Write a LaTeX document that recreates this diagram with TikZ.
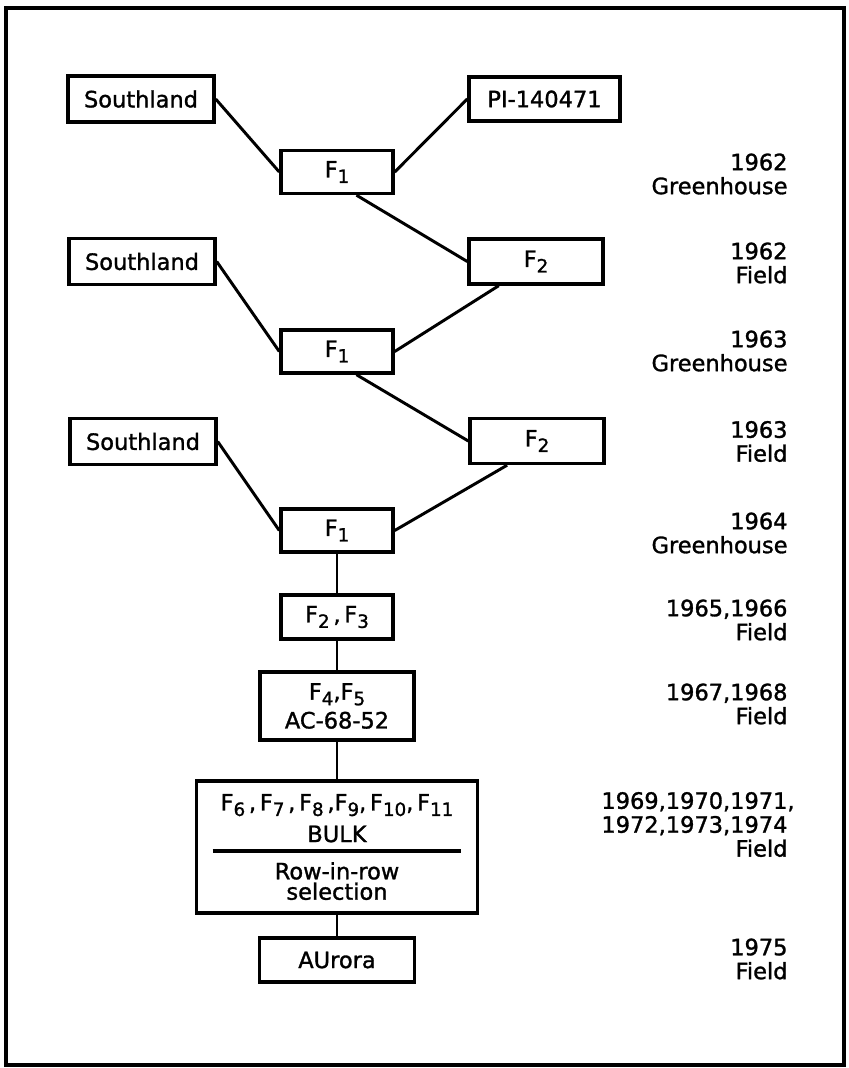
\documentclass[tikz,border=0pt]{standalone}
\usepackage{fontspec}
\setmainfont{DejaVu Sans}
\newfontfamily\letterfont[FakeBold=1.3]{DejaVu Sans}
\usetikzlibrary{positioning,calc}
\newcommand{\gen}[1]{F\raisebox{-0.45ex}{\fontsize{13}{13}\selectfont #1}}

\begin{document}
\begin{tikzpicture}[x=0.025cm, y=-0.025cm, line width=2.1pt,
  parentbox/.style={draw, line width=2.4pt, minimum width=3.65cm, minimum height=1.15cm, inner sep=2pt, align=center, font=\letterfont\fontsize{16}{17.5}\selectfont},
  genbox/.style={draw, line width=2.4pt, minimum width=2.8cm, minimum height=1.075cm, inner sep=2pt, align=center, font=\letterfont\fontsize{16}{17.5}\selectfont},
  backbox/.style={draw, line width=2.4pt, minimum width=3.35cm, minimum height=1.125cm, inner sep=2pt, align=center, font=\letterfont\fontsize{16}{17.5}\selectfont},
  yearlabel/.style={anchor=east, align=right, inner sep=0pt, font=\letterfont\fontsize{16}{17}\selectfont}
]
  \useasboundingbox (0,0) rectangle (849,1068);
  \draw[line width=2.4pt] (6,8) rectangle (844,1065);

  % crosses
  \node[parentbox] (s1) at (141,99) {Southland};
  \node[parentbox, minimum width=3.775cm, minimum height=1.1cm] (pi) at (544.5,99) {PI-140471};
  \node[genbox] (f1a) at (337,172) {\gen{1}};
  \node[backbox] (f2a) at (536,261.5) {\gen{2}};
  \node[parentbox] (s2) at (142,261.5) {Southland};
  \node[genbox] (f1b) at (337,351.5) {\gen{1}};
  \node[parentbox] (s3) at (143,441.5) {Southland};
  \node[backbox] (f2b) at (537,441) {\gen{2}};
  \node[genbox] (f1c) at (337,530.5) {\gen{1}};

  % selfing generations
  \node[genbox, minimum height=1.1cm] (f23) at (337,617) {\gen{2}\,,\,\gen{3}};
  \node[genbox, minimum width=3.85cm, minimum height=1.7cm] (f45) at (337,706) {\gen{4},\gen{5}\\[3pt]AC-68-52};
  \node[genbox, minimum width=7.025cm, minimum height=3.3cm] (bulk) at (337,847)
    {\gen{6}\,,\,\gen{7}\,,\,\gen{8}\,,\gen{9},\,\gen{10},\,\gen{11}\\[5pt]BULK\\[9pt]Row-in-row\\[-3pt]selection};
  \draw[line width=2.4pt] ([xshift=-3.11cm,yshift=-0.1cm]bulk.center) -- ([xshift=3.11cm,yshift=-0.1cm]bulk.center);
  \node[genbox, minimum width=3.875cm, minimum height=1.1cm] (aurora) at (337,960) {AUrora};

  \draw (s1.east) -- (f1a.west);
  \draw (pi.west) -- (f1a.east);
  \draw (f1a.-50) -- (f2a.west);
  \draw (f2a.-147) -- (f1b.east);
  \draw (s2.east) -- (f1b.west);
  \draw (f1b.-50) -- (f2b.west);
  \draw (f2b.-141) -- (f1c.east);
  \draw (s3.east) -- (f1c.west);
  \draw (f1c) -- (f23);
  \draw (f23) -- (f45);
  \draw (f45) -- (bulk);
  \draw (bulk) -- (aurora);

  % years
  \node[yearlabel] (y1) at (789,174) {1962\\Greenhouse};
  \node[yearlabel] (y2) at (789,263) {1962\\Field};
  \node[yearlabel] (y3) at (789,351) {1963\\Greenhouse};
  \node[yearlabel] (y4) at (789,441.5) {1963\\Field};
  \node[yearlabel] (y5) at (789,533) {1964\\Greenhouse};
  \node[yearlabel] (y6) at (789,620) {1965,1966\\Field};
  \node[yearlabel] (y7) at (789,704) {1967,1968\\Field};
  \node[yearlabel] (y8) at (789,824.5) {1969,1970,1971\rlap{,}\\1972,1973,1974\\Field};
  \node[yearlabel] (y9) at (789,959) {1975\\Field};
\end{tikzpicture}
\end{document}
